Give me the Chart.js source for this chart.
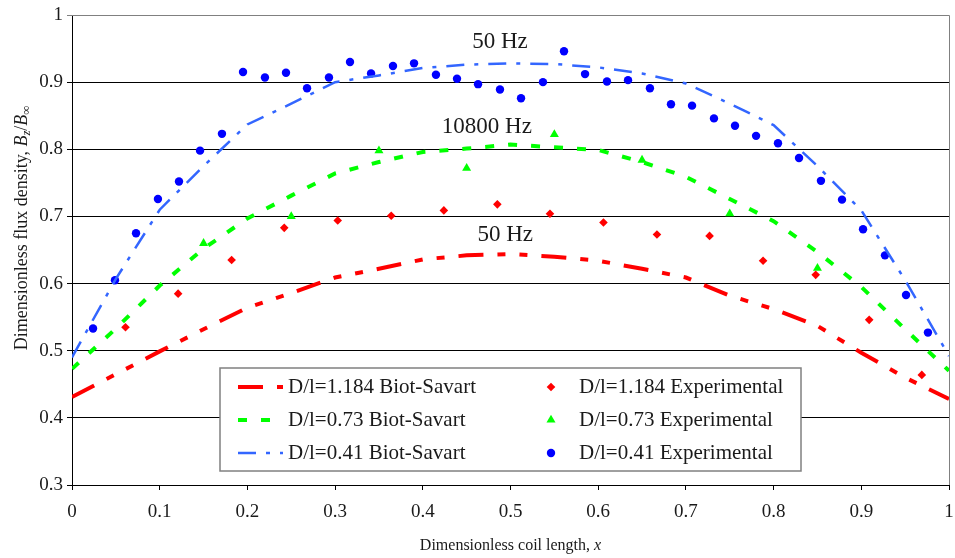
<!DOCTYPE html>
<html>
<head>
<meta charset="utf-8">
<title>Dimensionless flux density</title>
<script src="https://cdn.jsdelivr.net/npm/chart.js@4.4.1/dist/chart.umd.min.js"></script>
<style>
    html, body { margin: 0; padding: 0; background: #fff; }
    .chart-box { width: 955px; height: 558px; }
</style>
</head>
<body>
<div class="chart-box"><canvas id="fluxChart"></canvas></div>
<script>
// Biot-Savart curves, sampled every 0.05 along the coil
const xCurve = [0, 0.05, 0.1, 0.15, 0.2, 0.25, 0.3, 0.35, 0.4, 0.45, 0.5, 0.55, 0.6, 0.65, 0.7, 0.75, 0.8, 0.85, 0.9, 0.95, 1];
const redCurve = [0.431, 0.465, 0.499, 0.532, 0.564, 0.586, 0.609, 0.622, 0.636, 0.642, 0.644, 0.640, 0.634, 0.622, 0.609, 0.582, 0.562, 0.537, 0.497, 0.460, 0.428];
const greenCurve = [0.473, 0.533, 0.597, 0.652, 0.697, 0.731, 0.764, 0.781, 0.796, 0.801, 0.807, 0.803, 0.799, 0.781, 0.759, 0.726, 0.693, 0.647, 0.595, 0.532, 0.470];
const blueCurve = [0.490, 0.607, 0.710, 0.775, 0.837, 0.868, 0.900, 0.910, 0.921, 0.926, 0.928, 0.927, 0.922, 0.913, 0.898, 0.868, 0.836, 0.775, 0.709, 0.605, 0.492];

// Experimental points
const redExpX = [0.061, 0.121, 0.182, 0.242, 0.303, 0.364, 0.424, 0.485, 0.545, 0.606, 0.667, 0.727, 0.788, 0.848, 0.909, 0.969];
const redExpY = [0.535, 0.585, 0.635, 0.683, 0.694, 0.701, 0.709, 0.718, 0.704, 0.691, 0.673, 0.671, 0.634, 0.613, 0.546, 0.464];
const greenExpX = [0.15, 0.25, 0.35, 0.45, 0.55, 0.65, 0.75, 0.85];
const greenExpY = [0.660, 0.700, 0.798, 0.772, 0.822, 0.784, 0.704, 0.623];
const blueExpX = [0.024, 0.049, 0.073, 0.098, 0.122, 0.146, 0.171, 0.195, 0.220, 0.244, 0.268, 0.293, 0.317, 0.341, 0.366, 0.390, 0.415, 0.439, 0.463, 0.488,
    0.512, 0.537, 0.561, 0.585, 0.610, 0.634, 0.659, 0.683, 0.707, 0.732, 0.756, 0.780, 0.805, 0.829, 0.854, 0.878, 0.902, 0.927, 0.951, 0.976];
const blueExpY = [0.533, 0.605, 0.675, 0.726, 0.752, 0.798, 0.823, 0.915, 0.907, 0.914, 0.891, 0.907, 0.930, 0.913, 0.924, 0.928, 0.911, 0.905, 0.897, 0.889,
    0.876, 0.900, 0.946, 0.912, 0.901, 0.903, 0.891, 0.867, 0.865, 0.846, 0.835, 0.820, 0.809, 0.787, 0.753, 0.725, 0.681, 0.642, 0.583, 0.527];

const seriesNames = [
    'D/l=1.184 Biot-Savart', 'D/l=0.73 Biot-Savart', 'D/l=0.41 Biot-Savart',
    'D/l=1.184 Experimental', 'D/l=0.73 Experimental', 'D/l=0.41 Experimental'
];

// Tick labels
const xTickLabels = ['0', '0.1', '0.2', '0.3', '0.4', '0.5', '0.6', '0.7', '0.8', '0.9', '1'];
const yTickLabels = ['0.3', '0.4', '0.5', '0.6', '0.7', '0.8', '0.9', '1'];

// Frequency labels written on the plot (data coordinates)
const freqLabels = ['50 Hz', '10800 Hz', '50 Hz'];
const freqX = [0.488, 0.473, 0.494];
const freqY = [0.960, 0.834, 0.673];

const serif = "'Liberation Serif', 'Times New Roman', serif";

function toPoints(xs, ys) {
    return xs.map((x, i) => ({ x: x, y: ys[i] }));
}

function lineSet(label, ys, color, width, dash) {
    return {
        label: label,
        data: toPoints(xCurve, ys),
        showLine: true,
        borderColor: color,
        borderWidth: width,
        borderDash: dash,
        borderCapStyle: 'butt',
        pointRadius: 0,
        fill: false
    };
}

function pointSet(label, xs, ys, color, style, radius) {
    return {
        label: label,
        data: toPoints(xs, ys),
        showLine: false,
        backgroundColor: color,
        borderColor: color,
        borderWidth: 0,
        pointStyle: style,
        pointRadius: radius
    };
}

// Draw text made of pieces (regular / italic / subscript) centred on 0,0
function drawRichText(ctx, parts, size) {
    const fontOf = p => (p.italic ? 'italic ' : '') + (p.sub ? size * 0.7 : size) + 'px ' + serif;
    let total = 0;
    parts.forEach(p => { ctx.font = fontOf(p); total += ctx.measureText(p.text).width; });
    let x = -total / 2;
    ctx.textBaseline = 'middle';
    ctx.textAlign = 'left';
    parts.forEach(p => {
        ctx.font = fontOf(p);
        ctx.fillText(p.text, x, p.sub ? size * 0.25 : 0);
        x += ctx.measureText(p.text).width;
    });
}

function drawMarker(ctx, style, x, y, r, color) {
    ctx.fillStyle = color;
    ctx.beginPath();
    if (style === 'circle') {
        ctx.arc(x, y, r, 0, Math.PI * 2);
    } else if (style === 'triangle') {
        ctx.moveTo(x, y - r);
        ctx.lineTo(x + r * 0.87, y + r * 0.5);
        ctx.lineTo(x - r * 0.87, y + r * 0.5);
    } else {
        ctx.moveTo(x, y - r);
        ctx.lineTo(x + r, y);
        ctx.lineTo(x, y + r);
        ctx.lineTo(x - r, y);
    }
    ctx.closePath();
    ctx.fill();
}

// Plot frame, axis titles, frequency labels and the two-column legend
const decorPlugin = {
    id: 'decor',
    beforeDatasetsDraw(chart) {
        const { ctx, chartArea: a } = chart;
        ctx.save();
        ctx.strokeStyle = '#808080';
        ctx.lineWidth = 1;
        ctx.beginPath();
        ctx.moveTo(a.left, a.top + 0.5);
        ctx.lineTo(a.right + 0.5, a.top + 0.5);
        ctx.lineTo(a.right + 0.5, a.bottom);
        ctx.stroke();
        ctx.restore();
    },
    afterDraw(chart) {
        const { ctx, chartArea: a, scales } = chart;
        ctx.save();
        ctx.fillStyle = '#1a1a1a';

        // frequency labels
        ctx.font = '23px ' + serif;
        ctx.textAlign = 'center';
        ctx.textBaseline = 'middle';
        freqLabels.forEach((t, i) => {
            ctx.fillText(t, scales.x.getPixelForValue(freqX[i]), scales.y.getPixelForValue(freqY[i]));
        });

        // x axis title
        ctx.save();
        ctx.translate((a.left + a.right) / 2, 546);
        drawRichText(ctx, [{ text: 'Dimensionless coil length, ' }, { text: 'x', italic: true }], 16);
        ctx.restore();

        // y axis title
        ctx.save();
        ctx.translate(22, 228);
        ctx.rotate(-Math.PI / 2);
        drawRichText(ctx, [
            { text: 'Dimensionless flux density, ' },
            { text: 'B', italic: true }, { text: 'z', italic: true, sub: true },
            { text: '/' },
            { text: 'B', italic: true }, { text: '\u221e', sub: true }
        ], 18);
        ctx.restore();

        // legend box
        const box = { left: 220, top: 368, right: 801, bottom: 471 };
        ctx.fillStyle = '#fff';
        ctx.fillRect(box.left, box.top, box.right - box.left, box.bottom - box.top);
        ctx.strokeStyle = '#808080';
        ctx.lineWidth = 1.5;
        ctx.strokeRect(box.left, box.top, box.right - box.left, box.bottom - box.top);

        const rowY = [387, 420, 453];
        const ds = chart.data.datasets;
        ctx.font = '21px ' + serif;
        ctx.textAlign = 'left';
        ctx.textBaseline = 'middle';
        for (let i = 0; i < 3; i++) {
            const line = ds[i];
            ctx.save();
            ctx.beginPath();
            ctx.rect(238, rowY[i] - 5, 45, 10);
            ctx.clip();
            ctx.strokeStyle = line.borderColor;
            ctx.lineWidth = line.borderWidth;
            ctx.setLineDash(line.borderDash);
            ctx.beginPath();
            ctx.moveTo(238, rowY[i]);
            ctx.lineTo(283, rowY[i]);
            ctx.stroke();
            ctx.restore();
            ctx.fillStyle = '#1a1a1a';
            ctx.fillText(line.label, 288, rowY[i]);

            const pts = ds[i + 3];
            drawMarker(ctx, pts.pointStyle, 551, rowY[i], pts.pointRadius, pts.backgroundColor);
            ctx.fillStyle = '#1a1a1a';
            ctx.fillText(pts.label, 579, rowY[i]);
        }
        ctx.restore();
    }
};

const fluxChart = new Chart(document.getElementById('fluxChart'), {
    type: 'scatter',
    data: {
        datasets: [
            lineSet(seriesNames[0], redCurve, '#ff0000', 4, [25, 14, 8, 14, 8, 14]),
            lineSet(seriesNames[1], greenCurve, '#00ff00', 4, [9, 14]),
            lineSet(seriesNames[2], blueCurve, '#3366ff', 2.5, [18, 10, 4, 10]),
            pointSet(seriesNames[3], redExpX, redExpY, '#ff0000', 'rectRot', 4.3),
            pointSet(seriesNames[4], greenExpX, greenExpY, '#00ff00', 'triangle', 5.2),
            pointSet(seriesNames[5], blueExpX, blueExpY, '#0000ff', 'circle', 4.2)
        ]
    },
    options: {
        responsive: true,
        maintainAspectRatio: false,
        animation: false,
        layout: { padding: { top: 15, right: 6, left: 0, bottom: 0 } },
        plugins: {
            legend: { display: false },
            tooltip: { enabled: false }
        },
        scales: {
            x: {
                type: 'linear',
                min: 0,
                max: 1,
                afterFit: scale => {
                    scale.height = 73;
                    scale.paddingLeft = 0;
                    scale.paddingRight = 0;
                },
                ticks: {
                    stepSize: 0.1,
                    padding: 11,
                    color: '#1a1a1a',
                    font: { family: serif, size: 19 },
                    callback: (v, i) => xTickLabels[i]
                },
                grid: { drawOnChartArea: false, drawTicks: true, tickLength: 5, color: '#000' },
                border: { display: true, color: '#000', width: 1 }
            },
            y: {
                min: 0.3,
                max: 1,
                afterFit: scale => {
                    scale.width = 72;
                    scale.paddingTop = 0;
                    scale.paddingBottom = 0;
                },
                ticks: {
                    stepSize: 0.1,
                    padding: 4,
                    color: '#1a1a1a',
                    font: { family: serif, size: 19 },
                    callback: (v, i) => yTickLabels[i]
                },
                grid: {
                    tickLength: 5,
                    lineWidth: 1,
                    color: c => (c.index === yTickLabels.length - 1 ? '#808080' : '#000')
                },
                border: { display: true, color: '#000', width: 1 }
            }
        }
    },
    plugins: [decorPlugin]
});
</script>
</body>
</html>
